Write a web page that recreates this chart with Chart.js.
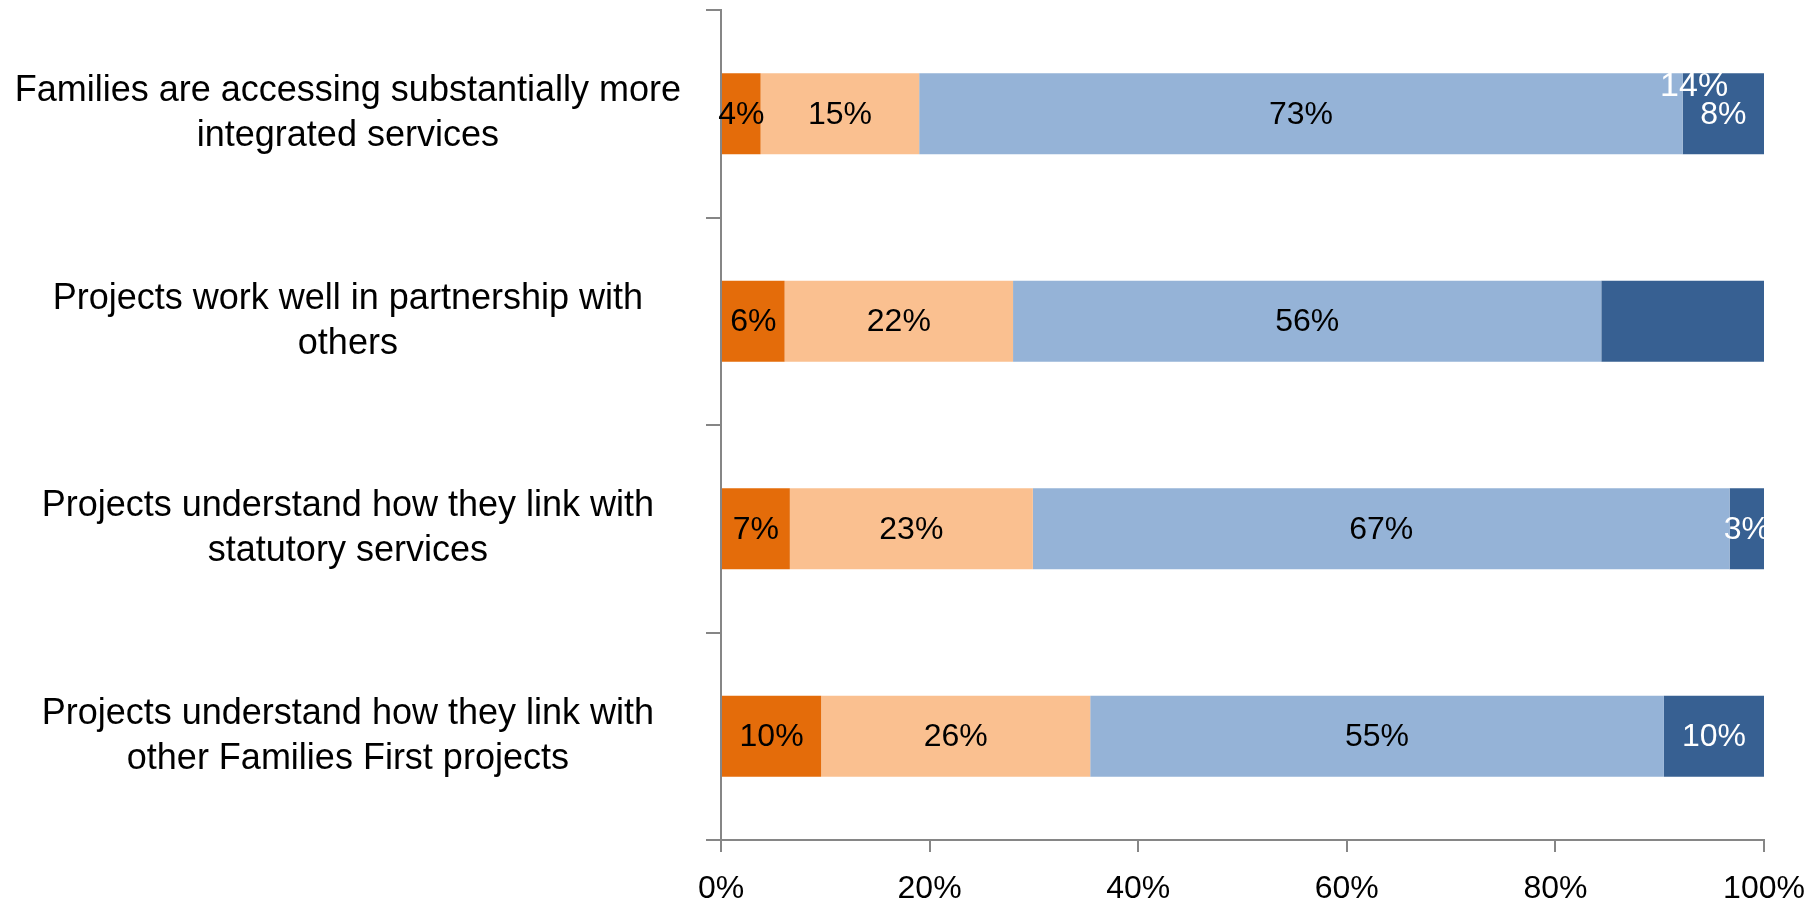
<!DOCTYPE html>
<html>
<head>
<meta charset="utf-8">
<script src="https://cdn.jsdelivr.net/npm/chart.js@4"></script>
<style>
  html, body { margin: 0; padding: 0; background: #fff; }
  #wrap { width: 1809px; height: 905px; }
</style>
</head>
<body>
<div id="wrap"><canvas id="surveyChart"></canvas></div>
<script>
const categories = [
    ["Families are accessing substantially more", "integrated services"],
    ["Projects work well in partnership with", "others"],
    ["Projects understand how they link with", "statutory services"],
    ["Projects understand how they link with", "other Families First projects"]
];

// segment widths (percent)
const series1 = [3.8, 6.1, 6.6, 9.6];
const series2 = [15.2, 21.9, 23.3, 25.8];
const series3 = [73.2, 56.4, 66.8, 55.0];
const series4 = [7.8, 15.6, 3.3, 9.6];

// printed labels (row 2 last segment has none)
const labels1 = ["4%", "6%", "7%", "10%"];
const labels2 = ["15%", "22%", "23%", "26%"];
const labels3 = ["73%", "56%", "67%", "55%"];
const labels4 = ["8%", null, "3%", "10%"];

const tickLabels = ["0%", "20%", "40%", "60%", "80%", "100%"];

const FONT = "'Liberation Sans', sans-serif";

const segLabels = {
    id: "segLabels",
    afterDatasetsDraw(chart) {
        const ctx = chart.ctx;
        const area = chart.chartArea;
        ctx.save();
        // labels may spill left over the axis but get cut at the right edge
        ctx.beginPath();
        ctx.rect(0, 0, area.right, chart.height);
        ctx.clip();
        ctx.font = "32px " + FONT;
        ctx.textAlign = "center";
        ctx.textBaseline = "middle";
        chart.data.datasets.forEach((ds, i) => {
            const meta = chart.getDatasetMeta(i);
            meta.data.forEach((bar, j) => {
                const txt = ds.valueLabels[j];
                if (!txt) return;
                ctx.fillStyle = ds.labelColor;
                ctx.fillText(txt, (bar.x + bar.base) / 2, bar.y + 1);
            });
        });
        // stray label sitting on top of the first bar
        const x = chart.scales.x.getPixelForValue(93.3);
        const b = chart.getDatasetMeta(3).data[0];
        ctx.fillStyle = "#ffffff";
        ctx.font = "34px " + FONT;
        ctx.fillText("14%", x, b.y - b.height / 2 + 13);
        ctx.restore();
    }
};

new Chart(document.getElementById("surveyChart").getContext("2d"), {
    type: "bar",
    data: {
        labels: categories,
        datasets: [
            { data: series1, valueLabels: labels1, labelColor: "#000000", backgroundColor: "#E46C0A" },
            { data: series2, valueLabels: labels2, labelColor: "#000000", backgroundColor: "#FAC090" },
            { data: series3, valueLabels: labels3, labelColor: "#000000", backgroundColor: "#95B3D7" },
            { data: series4, valueLabels: labels4, labelColor: "#ffffff", backgroundColor: "#376092" }
        ]
    },
    options: {
        indexAxis: "y",
        responsive: true,
        maintainAspectRatio: false,
        animation: false,
        categoryPercentage: 1,
        barPercentage: 0.39,
        layout: { padding: { top: 10, right: 45, bottom: 0, left: 0 } },
        plugins: {
            legend: { display: false },
            tooltip: { enabled: false }
        },
        scales: {
            x: {
                stacked: true,
                min: 0,
                max: 100,
                afterFit(scale) {
                    scale.height = 65;
                    scale.paddingLeft = 0;
                    scale.paddingRight = 0;
                },
                grid: {
                    drawOnChartArea: false,
                    drawTicks: true,
                    tickLength: 12,
                    color: "#868686",
                    lineWidth: 2
                },
                border: { color: "#868686", width: 2 },
                ticks: {
                    stepSize: 20,
                    padding: 18,
                    color: "#000000",
                    font: { family: FONT, size: 32 },
                    callback: (v, i) => tickLabels[i]
                }
            },
            y: {
                stacked: true,
                afterFit(scale) {
                    scale.width = 721;
                    scale.paddingTop = 0;
                    scale.paddingBottom = 0;
                },
                grid: {
                    drawOnChartArea: false,
                    drawTicks: true,
                    tickLength: 15,
                    offset: true,
                    color: "#868686",
                    lineWidth: 2
                },
                border: { color: "#868686", width: 2 },
                ticks: {
                    crossAlign: "center",
                    padding: 25,
                    color: "#000000",
                    font: { family: FONT, size: 36, lineHeight: 1.25 }
                }
            }
        }
    },
    plugins: [segLabels]
});
</script>
</body>
</html>
